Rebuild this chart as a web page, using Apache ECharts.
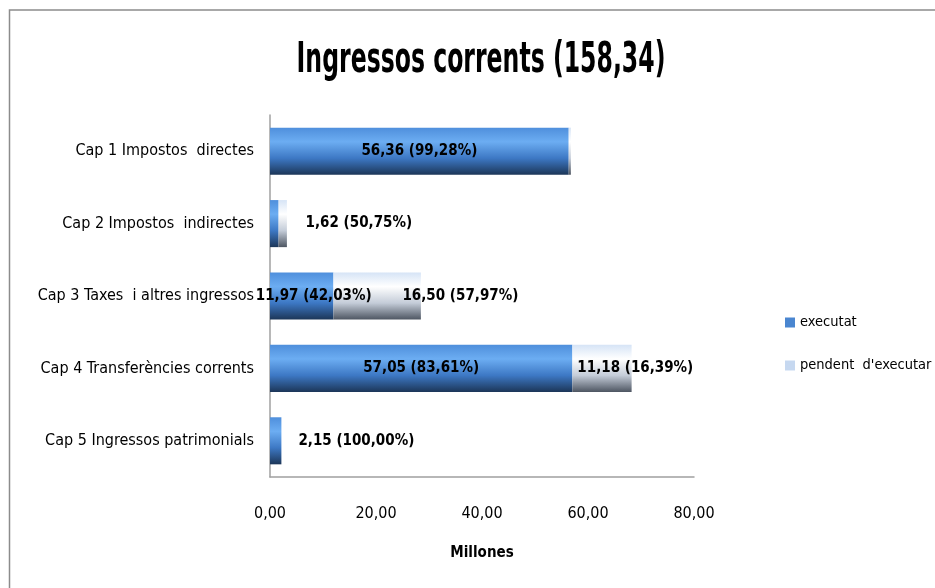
<!DOCTYPE html>
<html>
<head>
<meta charset="utf-8">
<script src="https://cdn.jsdelivr.net/npm/echarts@6/dist/echarts.min.js"></script>
<style>
html,body{margin:0;padding:0;background:#fff;}
#chart{width:935px;height:588px;}
</style>
</head>
<body>
<div id="chart"></div>
<script>
const titleText = 'Ingressos corrents (158,34)';
const categories = ['Cap 1 Impostos  directes','Cap 2 Impostos  indirectes','Cap 3 Taxes  i altres ingressos','Cap 4 Transferències corrents','Cap 5 Ingressos patrimonials'];
const executat = [56.36, 1.62, 11.97, 57.05, 2.15];
const executatPct = [99.28, 50.75, 42.03, 83.61, 100.00];
const pendent = [0.41, 1.57, 16.50, 11.18, 0];
const pendentPct = [null, null, 57.97, 16.39, null];
const xTicks = [0, 20, 40, 60, 80];

const FONT = "'Liberation Sans Narrow','DejaVu Sans Condensed',sans-serif";
const fmt = v => v.toFixed(2).replace('.', ',');
const lbl = (v, p) => fmt(v) + ' (' + fmt(p) + '%)';

const gradExec = new echarts.graphic.LinearGradient(0,0,0,1,[
  {offset:0,color:'#4f8fdc'},{offset:0.3,color:'#6cadf2'},{offset:0.65,color:'#3d78c4'},{offset:1,color:'#1c3658'}]);
const gradPend = new echarts.graphic.LinearGradient(0,0,0,1,[
  {offset:0,color:'#d6e4f6'},{offset:0.3,color:'#ffffff'},{offset:0.65,color:'#c4ccd8'},{offset:1,color:'#4e5662'}]);

// label placement (layout), per category
const execLabelPos = [
  {position:'inside'},
  {position:'right', distance:27},
  {position:'inside', offset:[12,0]},
  {position:'inside'},
  {position:'right', distance:17}
];
const pendLabelPos = [
  {}, {}, {position:'insideLeft', distance:69}, {position:'insideLeft', distance:5}, {}
];
const labelStyle = {fontFamily:FONT, fontWeight:'bold', fontSize:15, color:'#000'};

const execData = executat.map((v,i)=>({
  value:v,
  label:Object.assign({show:true, formatter:lbl(v, executatPct[i])}, labelStyle, execLabelPos[i])
}));
const pendData = pendent.map((v,i)=>({
  value:v,
  label:Object.assign({show:pendentPct[i]!==null, formatter:pendentPct[i]!==null?lbl(v,pendentPct[i]):''}, labelStyle, pendLabelPos[i])
}));

const chart = echarts.init(document.getElementById('chart'), null, {renderer:'canvas'});
chart.setOption({
  animation:false,
  backgroundColor:'#fff',
  graphic:[
    {type:'rect', shape:{x:9.5, y:10, width:940, height:600}, style:{fill:'none', stroke:'#8c8c8c', lineWidth:1.5}, silent:true, z:-1},
    {type:'text', x:481, y:61, scaleX:0.624, scaleY:1, silent:true,
      style:{text:titleText, x:0, y:0, textAlign:'center', textVerticalAlign:'middle', fontFamily:FONT, fontWeight:'bold', fontSize:42, fill:'#000'}}
  ],
  legend:{orient:'vertical', left:780, top:310, itemWidth:10, itemHeight:10, itemGap:28, icon:'rect',
    textStyle:{fontFamily:FONT, fontSize:14.5, color:'#000'},
    data:[{name:'executat', itemStyle:{color:'#4a86d0'}},{name:"pendent  d'executar", itemStyle:{color:'#c6d8f0'}}]},
  grid:{left:270, right:241, top:115, bottom:111, containLabel:false},
  xAxis:{type:'value', min:0, max:80, interval:20,
    axisLine:{show:true, lineStyle:{color:'#a0a0a0', width:1.5}},
    axisTick:{show:false}, splitLine:{show:false},
    axisLabel:{fontFamily:FONT, fontSize:16, color:'#000', margin:29, formatter:v=>fmt(v)},
    name:'Millones', nameLocation:'middle', nameGap:69,
    nameTextStyle:{fontFamily:FONT, fontWeight:'bold', fontSize:15, color:'#000'}},
  yAxis:{type:'category', data:categories, inverse:true,
    axisLine:{show:true, lineStyle:{color:'#a0a0a0', width:1.5}},
    axisTick:{show:false},
    axisLabel:{fontFamily:FONT, fontSize:16, color:'#000', margin:16}},
  series:[
    {name:'executat', type:'bar', stack:'t', barWidth:'65%', data:execData, itemStyle:{color:gradExec}},
    {name:"pendent  d'executar", type:'bar', stack:'t', barWidth:'65%', data:pendData, itemStyle:{color:gradPend}}
  ]
});
</script>
</body>
</html>
